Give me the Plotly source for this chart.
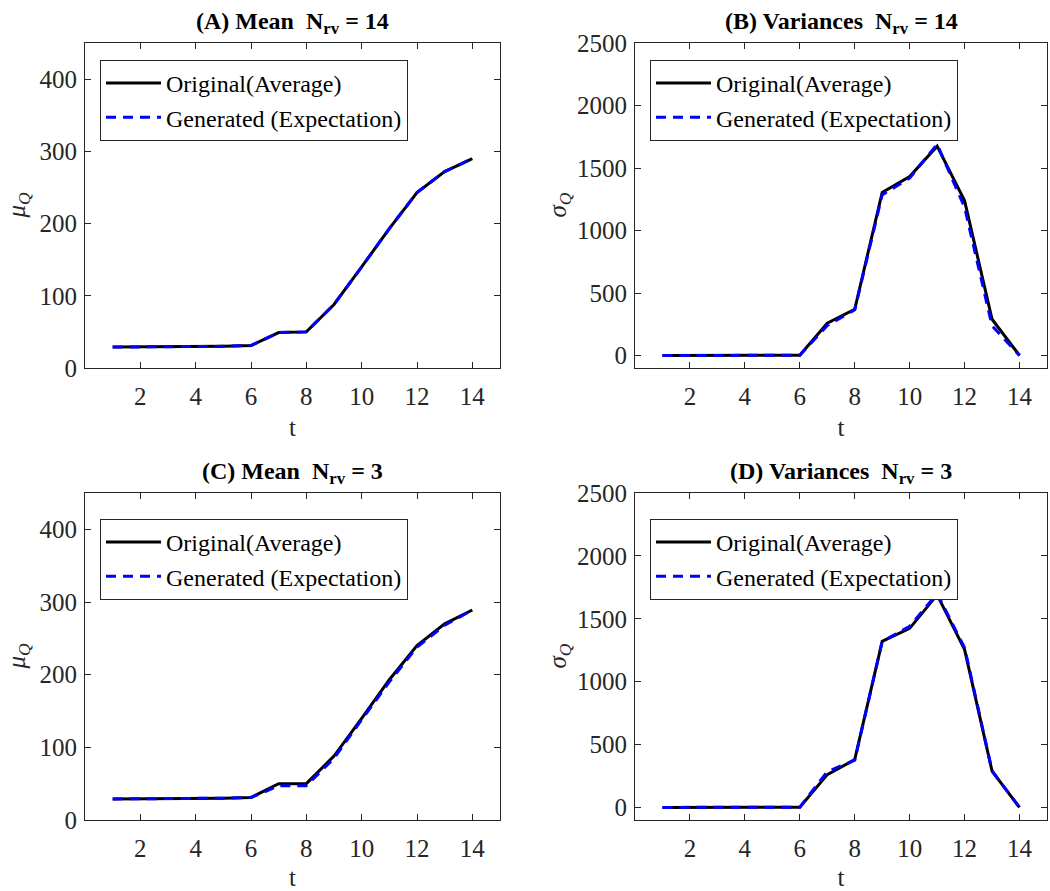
import plotly.graph_objects as go

t = list(range(1, 15))

# (A) Mean, N_rv = 14
mean14_orig = [29, 29, 29, 29, 30, 31, 49, 50, 88, 140, 193, 243, 272, 290]
mean14_gen = [29, 29, 29, 29, 30, 31, 49, 50, 88, 140, 193, 243, 272, 290]
# (B) Variances, N_rv = 14
var14_orig = [0, 0, 3, 0, 0, 2, 258, 370, 1305, 1432, 1675, 1237, 290, 0]
var14_gen = [0, 0, 3, 0, 0, 2, 240, 365, 1285, 1420, 1690, 1185, 238, 0]
# (C) Mean, N_rv = 3
mean3_orig = [29, 29, 30, 29, 30, 31, 50, 50, 88, 140, 193, 240, 270, 289]
mean3_gen = [29, 29, 30, 29, 30, 31, 47, 47, 85, 138, 190, 238, 268, 289]
# (D) Variances, N_rv = 3
var3_orig = [0, 0, 2, 0, 0, 2, 261, 380, 1320, 1424, 1690, 1255, 288, 0]
var3_gen = [0, 0, 2, 0, 0, 2, 285, 375, 1320, 1440, 1700, 1270, 290, 0]

titles = ["<b>(A) Mean  N<sub>rv</sub> = 14</b>", "<b>(B) Variances  N<sub>rv</sub> = 14</b>",
          "<b>(C) Mean  N<sub>rv</sub> = 3</b>", "<b>(D) Variances  N<sub>rv</sub> = 3</b>"]
ylabels = ["<i>μ<sub>Q</sub></i>", "<i>σ<sub>Q</sub></i>", "<i>μ<sub>Q</sub></i>", "<i>σ<sub>Q</sub></i>"]
x_ticks = [2, 4, 6, 8, 10, 12, 14]
mean_ticks = [0, 100, 200, 300, 400]
var_ticks = [0, 500, 1000, 1500, 2000, 2500]
legend_names = ["Original(Average)", "Generated (Expectation)"]

W, H = 1050, 891
FONT = "Times New Roman, Liberation Serif, serif"
AX = "#262626"

# (data, yrange, yticks, x-pixel span, y-pixel span, legend top offset, ylabel offset)
panels = [
    (mean14_orig, mean14_gen, [0, 450], mean_ticks, (85, 500), (43, 368), 17, 67),
    (var14_orig, var14_gen, [-100, 2500], var_ticks, (635, 1047), (43, 368), 17, 76),
    (mean3_orig, mean3_gen, [0, 450], mean_ticks, (85, 500), (493, 820), 26, 67),
    (var3_orig, var3_gen, [-100, 2500], var_ticks, (635, 1047), (493, 820), 26, 76),
]

fig = go.Figure()
layout = dict(
    width=W, height=H, margin=dict(l=0, r=0, t=0, b=0, autoexpand=False),
    paper_bgcolor="white", plot_bgcolor="white",
    font=dict(family=FONT, size=25, color="#262626"),
    showlegend=True,
)
annotations = []
for i, (orig, gen, yr, yt, (x0, x1), (y0, y1), lgoff, ylo) in enumerate(panels):
    n = "" if i == 0 else str(i + 1)
    xa, ya = "x" + n, "y" + n
    lg = "legend" if i == 0 else "legend" + str(i + 1)
    fig.add_trace(go.Scatter(x=t, y=orig, mode="lines", name=legend_names[0],
                             line=dict(color="black", width=3), xaxis=xa, yaxis=ya, legend=lg))
    fig.add_trace(go.Scatter(x=t, y=gen, mode="lines", name=legend_names[1],
                             line=dict(color="#0000ff", width=3, dash="10px,7px"),
                             xaxis=xa, yaxis=ya, legend=lg))
    xd = [x0 / W, x1 / W]
    yd = [1 - y1 / H, 1 - y0 / H]
    common = dict(showline=True, linecolor=AX, linewidth=1, mirror="ticks", ticks="inside",
                  ticklen=6, tickcolor=AX, showgrid=False, zeroline=False, automargin=False,
                  tickfont=dict(family=FONT, size=25, color="#262626"))
    layout["xaxis" + n] = dict(domain=xd, range=[0, 15], tickvals=x_ticks, anchor=ya,
                               ticklabelstandoff=6,
                               title=dict(text="t", font=dict(family=FONT, size=25), standoff=9),
                               **common)
    layout["yaxis" + n] = dict(domain=yd, range=yr, tickvals=yt, anchor=xa,
                               ticklabelstandoff=2, **common)
    layout[lg] = dict(x=(x0 + 15) / W, y=1 - (y0 + lgoff) / H, xanchor="left", yanchor="top",
                      bgcolor="white", bordercolor=AX, borderwidth=1,
                      font=dict(family=FONT, size=24, color="black"),
                      tracegroupgap=0, itemwidth=55)
    annotations.append(dict(text=titles[i], x=(x0 + x1) / 2 / W, y=1 - (y0 - 37) / H,
                            xref="paper", yref="paper", showarrow=False,
                            font=dict(family=FONT, size=24, color="black"),
                            xanchor="center", yanchor="top"))
    annotations.append(dict(text=ylabels[i], x=(x0 - ylo) / W, y=1 - (y0 + y1) / 2 / H,
                            xref="paper", yref="paper", showarrow=False, textangle=-90,
                            font=dict(family=FONT, size=25, color="#262626"),
                            xanchor="center", yanchor="middle"))
layout["annotations"] = annotations
fig.update_layout(**layout)
fig.write_html("out.html")
